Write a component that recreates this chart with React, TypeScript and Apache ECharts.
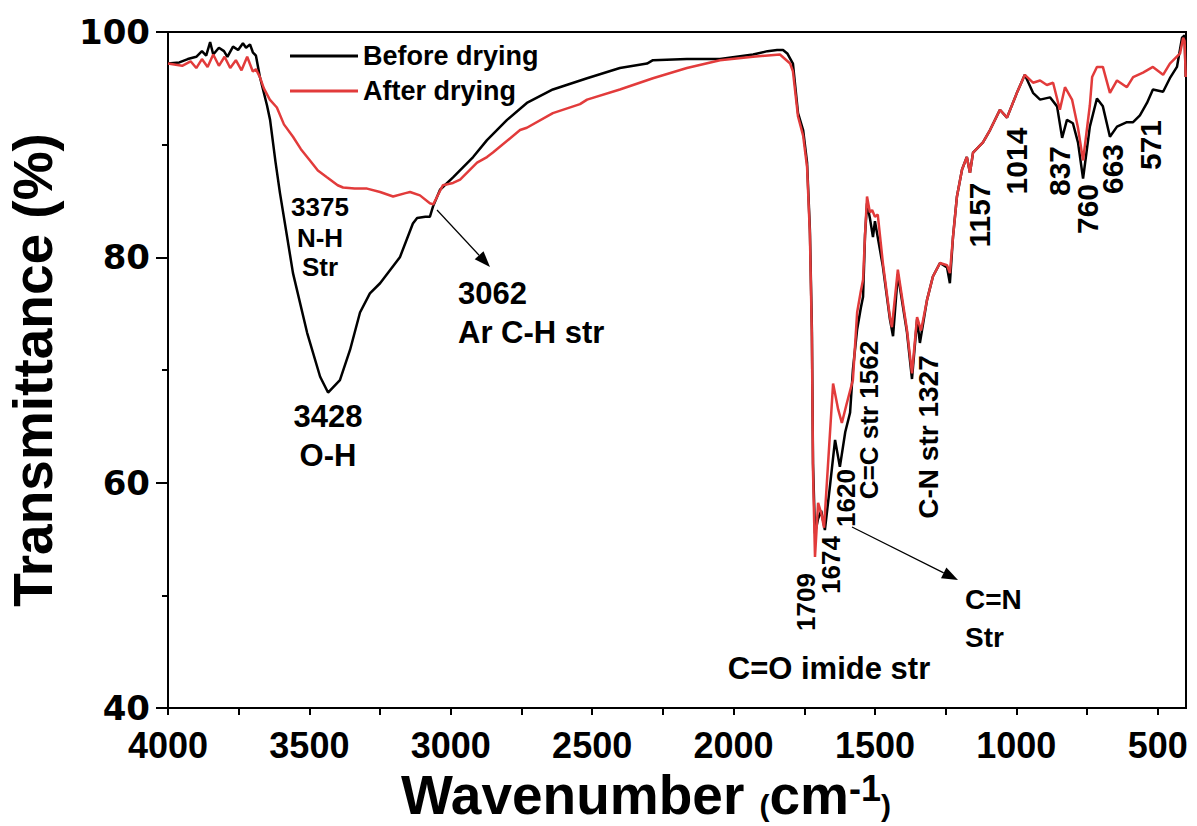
import React, { useEffect, useRef } from "react";
import * as echarts from "echarts";

// ---- Data ----
const beforeWavenumber = [
  4000, 3960, 3930, 3900, 3880, 3865, 3851, 3840, 3820, 3802, 3790, 3770, 3752, 3735, 3724, 3710, 3700, 3689,
  3675, 3650, 3639, 3620, 3604, 3580, 3558, 3508, 3462, 3434, 3392, 3356, 3321, 3286, 3250, 3180, 3134, 3119,
  3090, 3074, 3063, 3038, 2992, 2921, 2872, 2801, 2731, 2639, 2518, 2402, 2306, 2285, 2165, 2048, 1931, 1880,
  1846, 1825, 1810, 1790, 1772, 1754, 1740, 1730, 1723, 1719, 1712, 1701, 1690, 1677, 1660, 1641, 1624, 1605,
  1588, 1578, 1563, 1550, 1542, 1535, 1528, 1518, 1507, 1500, 1472, 1447, 1436, 1419, 1387, 1369, 1351, 1341,
  1316, 1295, 1270, 1245, 1235, 1224, 1210, 1192, 1175, 1164, 1153, 1118, 1093, 1058, 1033, 998, 970, 941, 916,
  881, 856, 838, 821, 800, 782, 764, 740, 715, 694, 669, 644, 609, 587, 563, 538, 517, 481, 457, 432, 414, 405,
  401,
];
const beforeTransmittance = [
  97.2, 97.3, 97.6, 97.8, 98.3, 97.9, 99.1, 98.0, 98.6, 98.3, 97.8, 98.7, 98.4, 99.0, 98.6, 98.9, 98.2, 97.9,
  96.0, 93.5, 92.2, 88.5, 85.7, 82.0, 78.6, 73.3, 69.4, 68.0, 69.1, 71.8, 75.1, 76.8, 77.7, 80.0, 83.0, 83.5,
  83.6, 83.6, 84.5, 86.0, 87.1, 88.9, 90.4, 92.2, 93.7, 94.9, 95.9, 96.8, 97.2, 97.5, 97.6, 97.6, 98.0, 98.3,
  98.4, 98.4, 98.1, 97.2, 92.8, 91.3, 88.4, 82.4, 73.6, 61.7, 55.5, 56.8, 57.5, 55.8, 59.5, 63.8, 61.4, 64.5,
  66.2, 70.0, 73.6, 75.5, 76.5, 82.0, 84.8, 83.5, 81.8, 83.2, 79.2, 74.5, 73.0, 78.5, 73.4, 69.2, 74.5, 72.4,
  76.2, 78.3, 79.5, 79.1, 77.7, 81.8, 85.4, 87.8, 88.9, 87.5, 89.3, 90.2, 91.3, 93.1, 92.4, 94.6, 96.2, 94.6, 94.0,
  94.2, 93.4, 90.6, 92.2, 91.9, 90.2, 87.0, 91.6, 94.1, 93.4, 90.7, 91.6, 92.0, 92.0, 92.6, 93.7, 94.9, 94.7, 95.9,
  96.9, 99.5, 99.7, 96.0,
];

const afterWavenumber = [
  4000, 3950, 3920, 3900, 3880, 3860, 3840, 3820, 3800, 3780, 3760, 3740, 3720, 3700, 3689, 3675, 3661, 3640,
  3615, 3590, 3558, 3530, 3498, 3470, 3438, 3400, 3381, 3340, 3296, 3250, 3204, 3160, 3144, 3109, 3074, 3062,
  3040, 3028, 2992, 2967, 2907, 2872, 2851, 2755, 2731, 2639, 2543, 2518, 2402, 2285, 2165, 2048, 1931, 1836,
  1800, 1790, 1772, 1754, 1740, 1730, 1723, 1719, 1712, 1701, 1690, 1680, 1665, 1648, 1630, 1617, 1600, 1578,
  1563, 1550, 1542, 1535, 1528, 1518, 1510, 1500, 1490, 1472, 1447, 1440, 1419, 1387, 1369, 1351, 1337, 1316,
  1295, 1270, 1245, 1235, 1224, 1210, 1192, 1175, 1164, 1153, 1118, 1093, 1058, 1033, 998, 970, 941, 916, 892,
  870, 846, 828, 803, 782, 764, 740, 732, 715, 694, 669, 644, 609, 587, 552, 517, 481, 457, 421, 410, 405, 401,
];
const afterTransmittance = [
  97.2, 97.0, 97.4, 96.8, 97.6, 96.9, 98.0, 97.0, 97.8, 96.8, 97.5, 96.6, 97.8, 96.5, 96.7, 96.0, 95.0, 94.0,
  93.3, 91.8, 90.7, 89.6, 88.6, 87.7, 87.1, 86.4, 86.2, 86.1, 86.1, 85.8, 85.4, 85.7, 85.8, 85.5, 84.8, 84.7,
  85.8, 86.4, 86.6, 86.9, 88.4, 88.9, 89.3, 91.3, 91.5, 92.8, 93.6, 94.0, 94.9, 95.9, 96.8, 97.5, 97.8, 98.0,
  97.2, 96.5, 92.5, 90.8, 88.0, 82.0, 73.0, 61.0, 53.4, 58.2, 57.3, 56.0, 62.0, 68.8, 66.5, 65.3, 67.0, 69.1,
  75.1, 77.0, 78.0, 82.0, 85.4, 84.0, 84.2, 83.6, 83.8, 79.5, 74.7, 73.8, 78.9, 73.6, 69.7, 74.7, 73.5, 76.2,
  78.3, 79.5, 79.3, 78.6, 81.8, 85.4, 87.8, 88.9, 87.5, 89.3, 90.2, 91.3, 93.1, 92.4, 94.6, 96.2, 95.5, 95.7, 95.3,
  95.5, 93.1, 95.1, 94.0, 91.5, 88.6, 93.5, 96.0, 96.9, 96.9, 94.6, 95.7, 95.1, 96.0, 96.4, 96.9, 96.2, 97.2, 98.1,
  99.5, 99.2, 96.0,
];

const xMajorTicks = [4000, 3500, 3000, 2500, 2000, 1500, 1000, 500];
const xMinorTicks = [4000, 3750, 3500, 3250, 3000, 2750, 2500, 2250, 2000, 1750, 1500, 1250, 1000, 750, 500];
const yMin = 40;
const yMax = 100;
const yInterval = 20;
const seriesNames = ["Before drying", "After drying"];

const ARIAL = "'Liberation Sans', Arial, sans-serif";
const NARROW = "'Liberation Sans Narrow', 'Liberation Sans', sans-serif";
const WIDE = "'DejaVu Sans', 'Liberation Sans', sans-serif";

type Ann = { text: string; x: number; y: number; size: number; align?: string; rot?: boolean };
const annotations: Ann[] = [
  { text: "3375", x: 320, y: 207, size: 26 },
  { text: "N-H", x: 320, y: 238, size: 26 },
  { text: "Str", x: 320, y: 267, size: 26 },
  { text: "3428", x: 328, y: 416, size: 31 },
  { text: "O-H", x: 328, y: 455, size: 31 },
  { text: "3062", x: 458, y: 293, size: 31, align: "left" },
  { text: "Ar C-H str", x: 458, y: 332, size: 31, align: "left" },
  { text: "C=O imide str", x: 829, y: 668, size: 31 },
  { text: "C=N", x: 965, y: 599, size: 28, align: "left" },
  { text: "Str", x: 965, y: 637, size: 28, align: "left" },
  { text: "1709", x: 806, y: 602, size: 26, rot: true },
  { text: "1674", x: 831, y: 565, size: 26, rot: true },
  { text: "1620", x: 846, y: 498, size: 26, rot: true },
  { text: "C=C str 1562", x: 869, y: 420, size: 26, rot: true },
  { text: "C-N str 1327", x: 928, y: 437, size: 28, rot: true },
  { text: "1157", x: 979, y: 215, size: 30, rot: true },
  { text: "1014", x: 1016, y: 161, size: 30, rot: true },
  { text: "837", x: 1059, y: 171, size: 30, rot: true },
  { text: "760", x: 1087, y: 209, size: 30, rot: true },
  { text: "663", x: 1112, y: 169, size: 30, rot: true },
  { text: "571", x: 1150, y: 145, size: 30, rot: true },
];

function arrow(x1: number, y1: number, x2: number, y2: number, len: number, half: number) {
  const dx = x2 - x1;
  const dy = y2 - y1;
  const d = Math.sqrt(dx * dx + dy * dy);
  const ux = dx / d;
  const uy = dy / d;
  const bx = x2 - ux * len;
  const by = y2 - uy * len;
  const px = -uy * half;
  const py = ux * half;
  return [
    { type: "line", shape: { x1, y1, x2: bx, y2: by }, style: { stroke: "#000", lineWidth: 1.2 }, z: 100 },
    {
      type: "polygon",
      shape: { points: [[x2, y2], [bx + px, by + py], [bx - px, by - py]] },
      style: { fill: "#000" },
      z: 100,
    },
  ];
}

export default function App() {
  const ref = useRef<HTMLDivElement>(null);
  useEffect(() => {
    if (!ref.current) return;
    const chart = echarts.init(ref.current, undefined, { renderer: "svg" });
    const graphics: any[] = annotations.map((a) => ({
      type: "text",
      x: a.x,
      y: a.y,
      rotation: a.rot ? Math.PI / 2 : 0,
      z: 100,
      style: {
        text: a.text,
        fill: "#000",
        fontFamily: ARIAL,
        fontWeight: "bold",
        fontSize: a.size,
        textAlign: a.align || "center",
        textVerticalAlign: "middle",
      },
    }));
    graphics.push(...arrow(437, 210, 490, 267, 16, 6));
    graphics.push(...arrow(852, 527, 958, 580, 16, 6));

    chart.setOption({
      animation: false,
      backgroundColor: "#fff",
      grid: {
        left: 168,
        right: 11,
        top: 32,
        bottom: 118,
        outerBoundsMode: "none",
        containLabel: false,
        show: true,
        borderColor: "#000",
        borderWidth: 2,
        backgroundColor: "transparent",
      },
      legend: {
        orient: "vertical",
        left: 285,
        top: 36,
        icon: "rect",
        itemWidth: 68,
        itemHeight: 3,
        itemGap: 5,
        selectedMode: false,
        data: seriesNames,
        textStyle: {
          fontFamily: ARIAL,
          fontWeight: "bold",
          fontSize: 27,
          lineHeight: 30,
          color: "#000",
        },
      },
      xAxis: {
        type: "value",
        inverse: true,
        min: 400,
        max: 4000,
        name: "{a|Wavenumber }{p|(}{a|cm}{s|-1}{p|)}",
        nameLocation: "middle",
        nameGap: 57,
        nameTextStyle: {
          padding: [0, 62, 0, 0],
          rich: {
            a: { fontFamily: ARIAL, fontWeight: "bold", fontSize: 55, color: "#000", lineHeight: 50 },
            p: {
              fontFamily: ARIAL,
              fontWeight: "bold",
              fontSize: 30,
              color: "#000",
              lineHeight: 50,
              verticalAlign: "bottom",
            },
            s: {
              fontFamily: ARIAL,
              fontWeight: "bold",
              fontSize: 36,
              color: "#000",
              lineHeight: 50,
              verticalAlign: "top",
            },
          },
        },
        axisLine: { show: true, onZero: false, lineStyle: { color: "#000", width: 2 } },
        axisTick: {
          show: true,
          inside: false,
          length: 7,
          customValues: xMinorTicks,
          lineStyle: { color: "#000", width: 2 },
        },
        axisLabel: {
          customValues: xMajorTicks,
          formatter: (v: number) => String(v),
          margin: 19,
          fontFamily: NARROW,
          fontWeight: "bold",
          fontSize: 36,
          color: "#000",
        },
        splitLine: { show: false },
      },
      yAxis: {
        type: "value",
        min: yMin,
        max: yMax,
        interval: yInterval,
        name: "Transmittance (%)",
        nameLocation: "middle",
        nameRotate: 90,
        nameGap: 108,
        nameTextStyle: { fontFamily: ARIAL, fontWeight: "bold", fontSize: 55, color: "#000" },
        axisLine: { show: true, onZero: false, lineStyle: { color: "#000", width: 2 } },
        axisTick: { show: true, inside: false, length: 12, lineStyle: { color: "#000", width: 2 } },
        minorTick: { show: true, splitNumber: 2, length: 6, lineStyle: { color: "#000", width: 2 } },
        axisLabel: {
          margin: 18,
          fontFamily: WIDE,
          fontWeight: "bold",
          fontSize: 34,
          color: "#000",
        },
        splitLine: { show: false },
        minorSplitLine: { show: false },
      },
      series: [
        {
          name: seriesNames[0],
          type: "line",
          symbol: "none",
          smooth: false,
          data: beforeWavenumber.map((w, i) => [w, beforeTransmittance[i]]),
          lineStyle: { color: "#000", width: 2.5 },
          itemStyle: { color: "#000" },
          z: 3,
        },
        {
          name: seriesNames[1],
          type: "line",
          symbol: "none",
          smooth: false,
          data: afterWavenumber.map((w, i) => [w, afterTransmittance[i]]),
          lineStyle: { color: "#e23b3b", width: 2.5 },
          itemStyle: { color: "#e23b3b" },
          z: 4,
        },
      ],
      graphic: graphics,
    });
    return () => chart.dispose();
  }, []);
  return <div ref={ref} style={{ position: "fixed", left: 0, top: 0, width: 1197, height: 826 }} />;
}
